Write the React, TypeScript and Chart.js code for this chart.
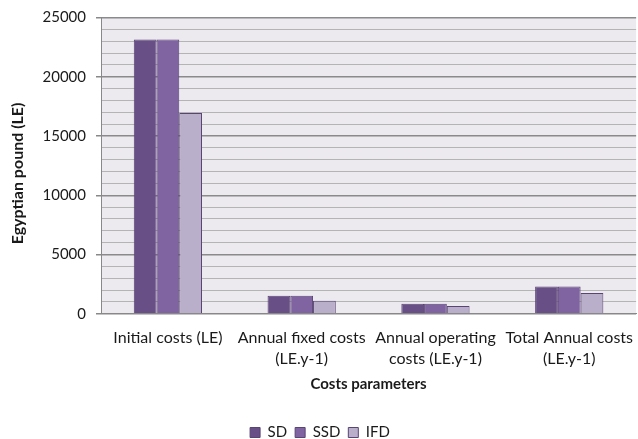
import React, { useEffect, useRef } from "react";
import { Chart, registerables } from "chart.js";

Chart.register(...registerables);

const categories: (string | string[])[] = [
  "Initial costs (LE)",
  ["Annual fixed costs", "(LE.y-1)"],
  ["Annual operating", "costs (LE.y-1)"],
  ["Total Annual costs", "(LE.y-1)"],
];
const sdValues = [23150, 1520, 840, 2300];
const ssdValues = [23150, 1520, 840, 2300];
const ifdValues = [16950, 1100, 650, 1750];
const yMin = 0;
const yMax = 25000;
const yStep = 1000;
const yLabelStep = 5000;

const FONT = "Lato, 'Open Sans', sans-serif";

const plotBg = {
  id: "plotBg",
  beforeDraw(chart: any) {
    const { ctx, chartArea } = chart;
    ctx.save();
    ctx.fillStyle = "#ECE9EF";
    ctx.fillRect(chartArea.left, chartArea.top, chartArea.right - chartArea.left, chartArea.bottom - chartArea.top);
    ctx.restore();
  },
};

export default function App() {
  const ref = useRef<HTMLCanvasElement>(null);
  useEffect(() => {
    document.body.style.margin = "0";
    const chart = new Chart(ref.current!, {
      type: "bar",
      data: {
        labels: categories as any,
        datasets: [
          { label: "SD", data: sdValues, backgroundColor: "#684F86", borderColor: "#5A4474", borderWidth: 1 },
          { label: "SSD", data: ssdValues, backgroundColor: "#8064A2", borderColor: "#5A4474", borderWidth: 1 },
          { label: "IFD", data: ifdValues, backgroundColor: "#B9AFCB", borderColor: "#5A4474", borderWidth: 1 },
        ],
      },
      options: {
        responsive: false,
        animation: false,
        layout: { padding: { top: 0, left: 2, right: 0, bottom: -11 } },
        datasets: { bar: { barPercentage: 1, categoryPercentage: 0.51 } },
        plugins: {
          tooltip: { enabled: false },
          legend: {
            position: "bottom",
            labels: {
              boxWidth: 10,
              boxHeight: 10,
              padding: 8,
              color: "#1a1a1a",
              font: { family: FONT, size: 15 },
            },
          },
        },
        scales: {
          x: {
            grid: { display: false },
            border: { display: true, color: "#888888", width: 1 },
            ticks: {
              color: "#1a1a1a",
              font: { family: FONT, size: 16, lineHeight: 1.35 },
              padding: 5,
              maxRotation: 0,
              autoSkip: false,
            },
            title: {
              display: true,
              text: "Costs parameters",
              color: "#1a1a1a",
              font: { family: FONT, size: 15, weight: "bold" },
              padding: { top: 0, bottom: 24 },
            },
          },
          y: {
            min: yMin,
            max: yMax,
            afterFit(scale: any) {
              scale.width = 99;
            },
            grid: {
              color: (c: any) => (c.tick && c.tick.value % yLabelStep === 0 ? "#8A8A8A" : "#B4B4B4"),
              tickColor: (c: any) => (c.tick && c.tick.value % yLabelStep === 0 ? "#888888" : "rgba(0,0,0,0)"),
              tickLength: 5,
              lineWidth: (c: any) => (c.tick && c.tick.value % yLabelStep === 0 ? 1.5 : 1),
            },
            border: { display: true, color: "#888888", width: 1 },
            ticks: {
              stepSize: yStep,
              autoSkip: false,
              padding: 10,
              color: "#1a1a1a",
              font: { family: FONT, size: 15, lineHeight: 1.0 },
              callback: (v: any) => (Number(v) % yLabelStep === 0 ? String(v) : ""),
            },
            title: {
              display: true,
              text: "Egyptian pound (LE)    ",
              color: "#1a1a1a",
              font: { family: FONT, size: 16, weight: "bold" },
              padding: { top: 6, bottom: 0 },
            },
          },
        },
      },
      plugins: [plotBg],
    });
    return () => chart.destroy();
  }, []);
  return (
    <div style={{ width: 638, height: 439 }}>
      <canvas ref={ref} width={638} height={439} />
    </div>
  );
}
